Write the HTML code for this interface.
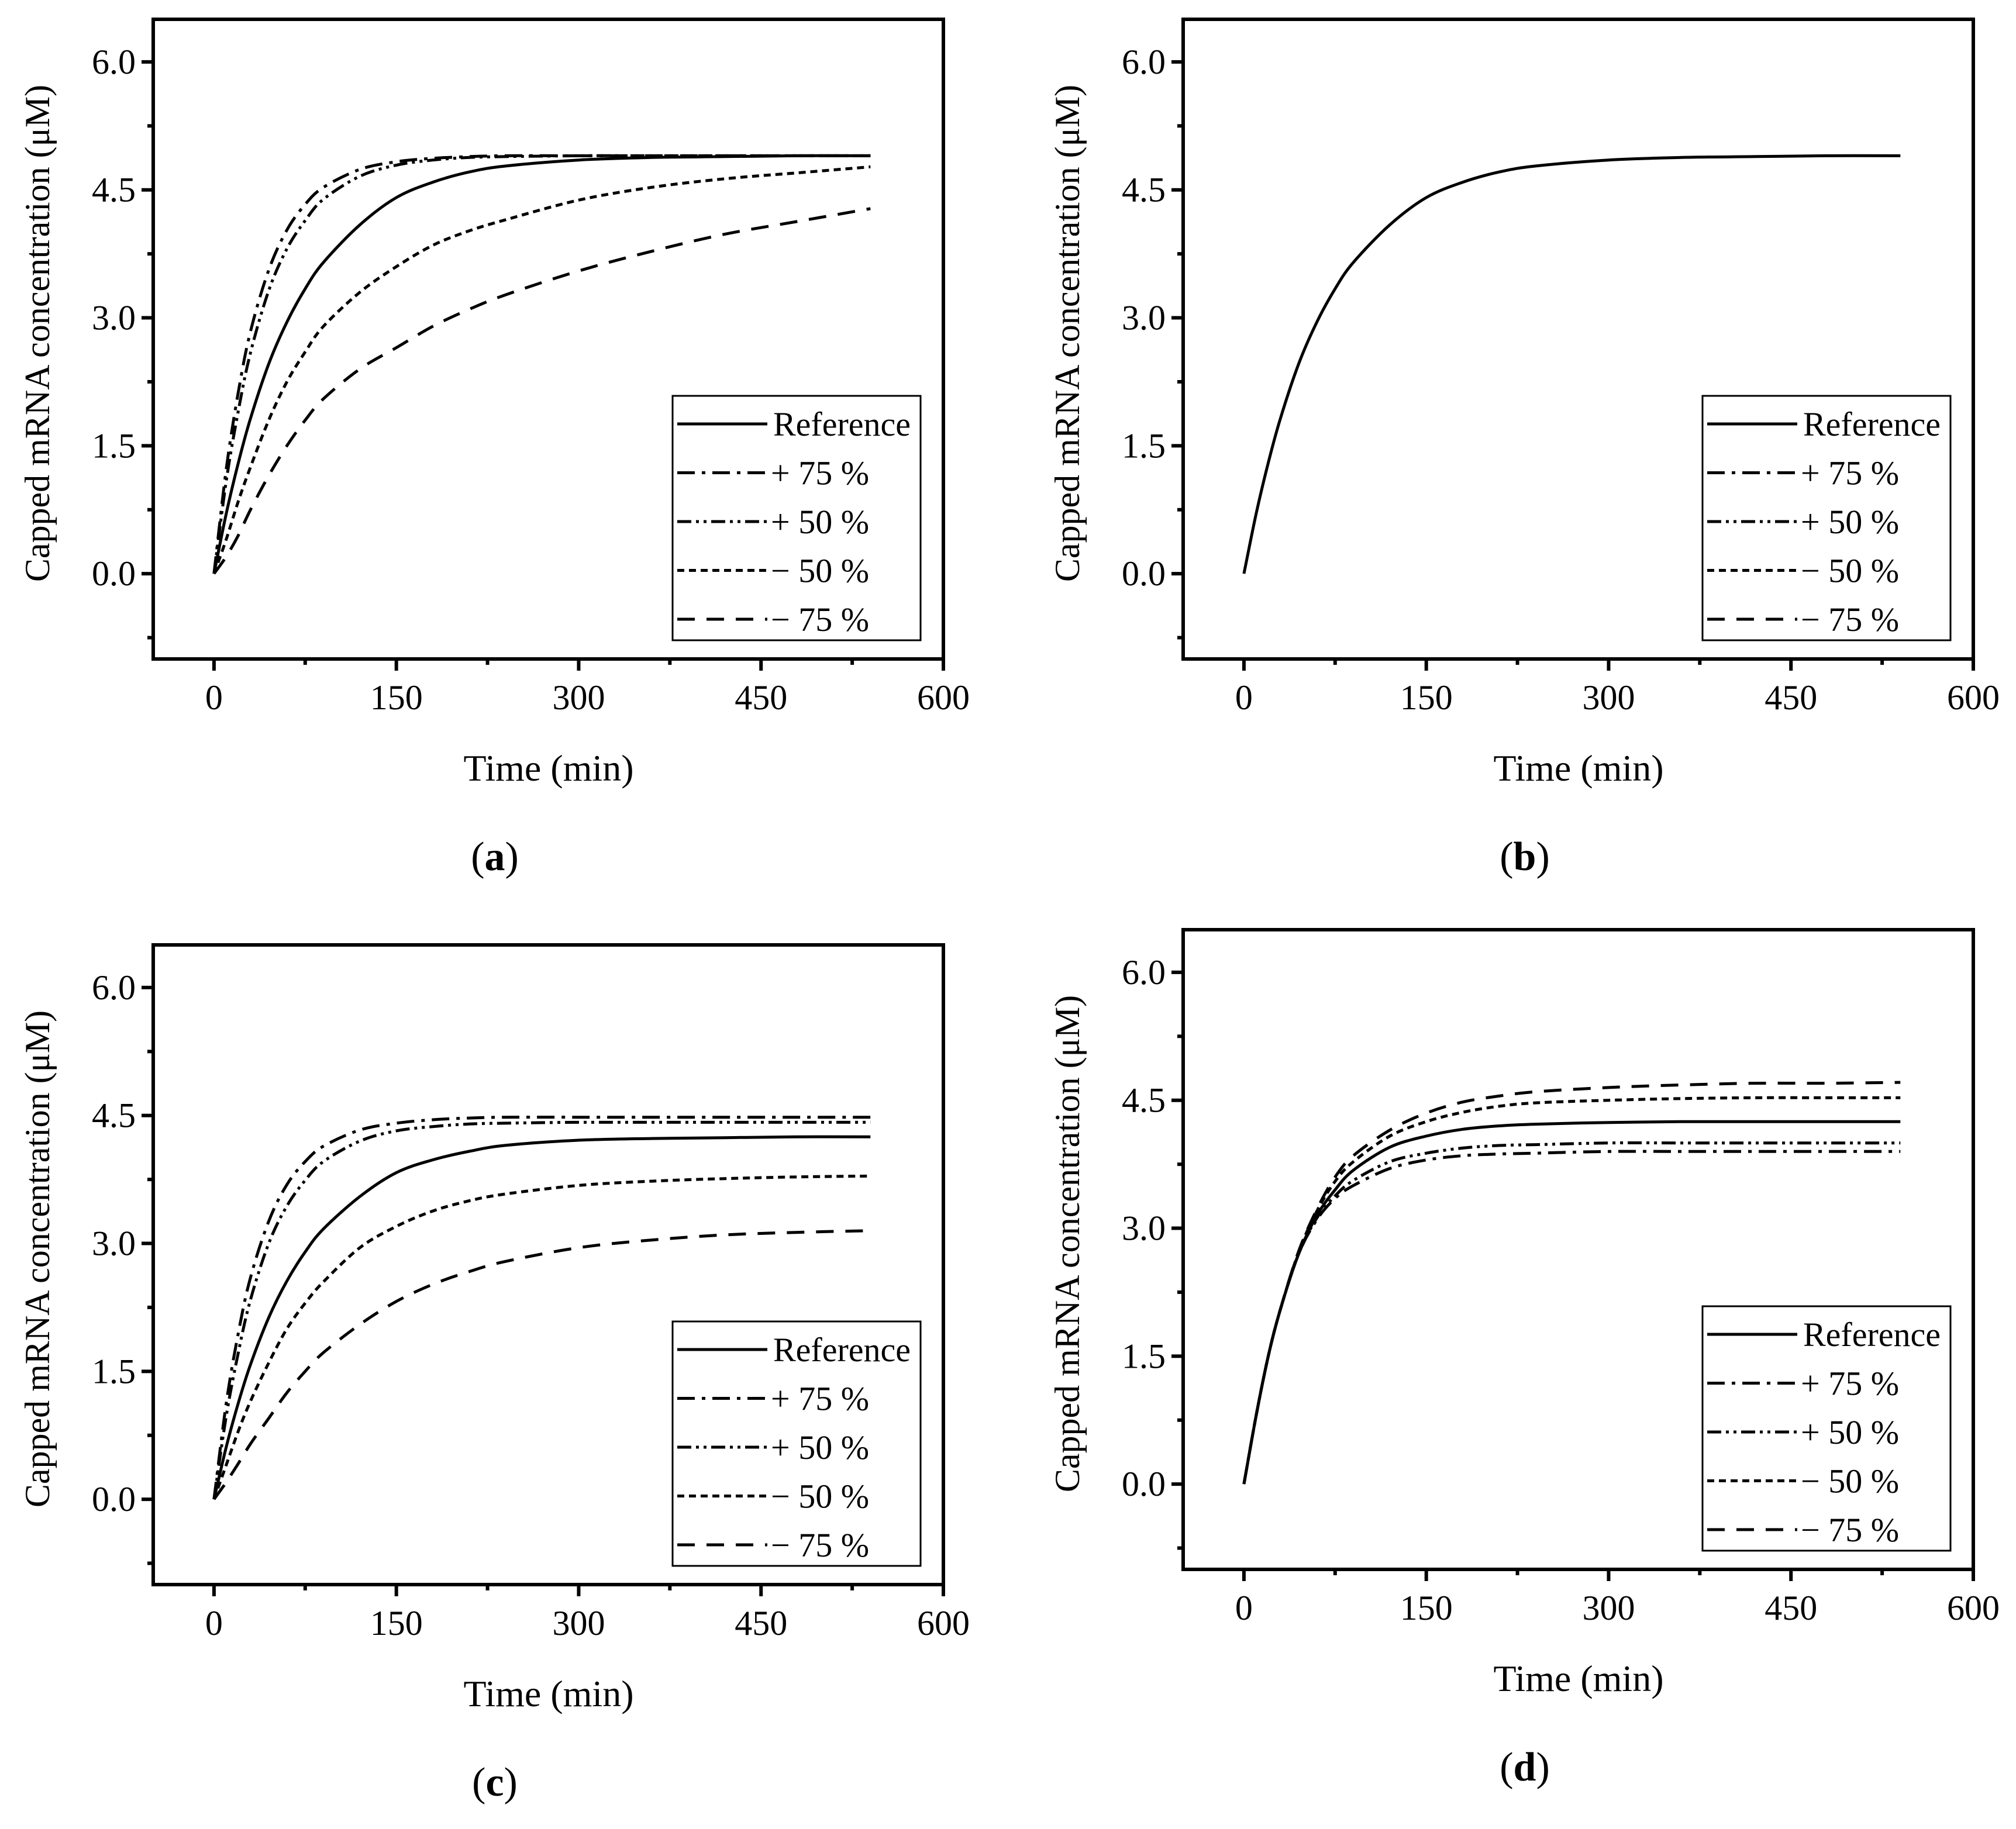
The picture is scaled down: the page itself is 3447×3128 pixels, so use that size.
<!DOCTYPE html>
<html><head><meta charset="utf-8"><style>
html,body{margin:0;padding:0;background:#fff;}
svg{display:block;font-family:"Liberation Serif",serif;}
</style></head><body>
<svg id="fig" width="3447" height="3128" viewBox="0 0 3447 3128" xmlns="http://www.w3.org/2000/svg"></svg>
<script>
const times = [0,10,20,30,45,60,75,90,120,150,180,210,240,300,360,420,480,540];
const xTicks = [0,150,300,450,600];
const yTicks = [0.0,1.5,3.0,4.5,6.0];
const seriesNames = ["Reference","+ 75 %","+ 50 %","\u2212 50 %","\u2212 75 %"];
const panelLabels = ["a","b","c","d"];
// panel a
const aRef = [0,0.70,1.30,1.82,2.46,2.95,3.34,3.65,4.09,4.41,4.59,4.71,4.78,4.85,4.88,4.89,4.90,4.90];
const aP75 = [0,1.22,2.13,2.84,3.56,4.03,4.33,4.53,4.74,4.83,4.87,4.89,4.90,4.90,4.90,4.90,4.90,4.90];
const aP50 = [0,1.08,1.91,2.59,3.32,3.81,4.14,4.39,4.66,4.79,4.85,4.88,4.89,4.90,4.90,4.90,4.90,4.90];
const aM50 = [0,0.40,0.85,1.25,1.80,2.25,2.60,2.90,3.30,3.60,3.85,4.02,4.15,4.38,4.53,4.63,4.70,4.77];
const aM75 = [0,0.20,0.45,0.75,1.15,1.50,1.80,2.05,2.40,2.65,2.90,3.10,3.27,3.55,3.78,3.98,4.13,4.28];
// panel b
const bRef = [0,0.70,1.30,1.82,2.46,2.95,3.34,3.65,4.09,4.41,4.59,4.71,4.78,4.85,4.88,4.89,4.90,4.90];
// panel c
const cRef = [0,0.61,1.13,1.58,2.13,2.56,2.90,3.17,3.55,3.83,3.98,4.08,4.15,4.21,4.23,4.24,4.25,4.25];
const cP75 = [0,1.12,1.95,2.60,3.26,3.69,3.96,4.14,4.33,4.41,4.45,4.47,4.48,4.48,4.48,4.48,4.48,4.48];
const cP50 = [0,0.97,1.72,2.34,3.00,3.44,3.74,3.96,4.20,4.32,4.37,4.40,4.41,4.42,4.42,4.42,4.42,4.42];
const cM50 = [0,0.40,0.80,1.15,1.60,2.00,2.30,2.55,2.95,3.20,3.38,3.50,3.58,3.68,3.73,3.76,3.78,3.79];
const cM75 = [0,0.20,0.42,0.65,0.95,1.25,1.50,1.72,2.05,2.32,2.52,2.67,2.79,2.95,3.04,3.10,3.13,3.15];
// panel d
const dRef = [0,0.80,1.50,2.05,2.70,3.15,3.45,3.68,3.95,4.08,4.16,4.20,4.22,4.24,4.25,4.25,4.25,4.25];
const dP75 = [0,0.80,1.50,2.05,2.70,3.10,3.35,3.50,3.70,3.80,3.85,3.87,3.88,3.90,3.90,3.90,3.90,3.90];
const dP50 = [0,0.80,1.50,2.05,2.70,3.12,3.38,3.56,3.78,3.88,3.94,3.97,3.98,4.00,4.00,4.00,4.00,4.00];
const dM50 = [0,0.80,1.50,2.05,2.72,3.20,3.55,3.78,4.08,4.25,4.36,4.43,4.47,4.50,4.52,4.53,4.53,4.53];
const dM75 = [0,0.80,1.50,2.05,2.73,3.22,3.60,3.85,4.15,4.35,4.48,4.55,4.60,4.65,4.68,4.70,4.70,4.71];

const NS="http://www.w3.org/2000/svg";
const svg=document.getElementById('fig');
const dashes=["", "30 12 6 12", "24 8 5 8 5 8", "12 8", "30 20"];
const slugs=["reference","plus-75","plus-50","minus-50","minus-75"];
function mk(tag,attrs,parent){const e=document.createElementNS(NS,tag);for(const k in attrs)e.setAttribute(k,attrs[k]);(parent||svg).appendChild(e);return e;}
function smoothPath(pts){
 let d='M'+pts[0][0].toFixed(1)+' '+pts[0][1].toFixed(1);
 for(let i=0;i<pts.length-1;i++){
  const p0=pts[Math.max(0,i-1)],p1=pts[i],p2=pts[i+1],p3=pts[Math.min(pts.length-1,i+2)];
  const c1x=p1[0]+(p2[0]-p0[0])/6,c1y=p1[1]+(p2[1]-p0[1])/6;
  const c2x=p2[0]-(p3[0]-p1[0])/6,c2y=p2[1]-(p3[1]-p1[1])/6;
  d+=` C${c1x.toFixed(1)} ${c1y.toFixed(1)} ${c2x.toFixed(1)} ${c2y.toFixed(1)} ${p2[0].toFixed(1)} ${p2[1].toFixed(1)}`;
 }
 return d;
}

const panels=[
 {dx:0,dy:0,series:[aRef,aP75,aP50,aM50,aM75]},
 {dx:1761,dy:0,series:[bRef]},
 {dx:0,dy:1583,series:[cRef,cP75,cP50,cM50,cM75]},
 {dx:1761,dy:1557,series:[dRef,dP75,dP50,dM50,dM75]}
];
const L=262,R=1613,T=33,B=1127, XMIN=-50,XMAX=600,YMIN=-1,YMAX=6.5;

panels.forEach((p,pi)=>{
 const g=mk('g',{transform:`translate(${p.dx},${p.dy})`});
 
 
 const xs=v=>L+(v-XMIN)/(XMAX-XMIN)*(R-L);
 const ys=v=>B-(v-YMIN)/(YMAX-YMIN)*(B-T);
 for(let v=0;v<=600;v+=75){const major=v%150===0;
  const t=mk('line',{x1:xs(v),x2:xs(v),y1:B,y2:B+(major?20:10),stroke:'#000','stroke-width':6},g);
  
  }
 for(let v=-0.75;v<=6.5;v+=0.75){const major=Math.abs(v/1.5-Math.round(v/1.5))<1e-6;
  const t=mk('line',{x1:L,x2:L-(major?20:10),y1:ys(v),y2:ys(v),stroke:'#000','stroke-width':6},g);
  
  }
 xTicks.forEach(v=>{const t=mk('text',{x:xs(v),y:B+86,'text-anchor':'middle','font-size':60},g);t.textContent=String(v);
  
  });
 yTicks.forEach(v=>{const t=mk('text',{x:L-30,y:ys(v)+20,'text-anchor':'end','font-size':60},g);t.textContent=v.toFixed(1);
  
  });
 const xt=mk('text',{x:938,y:1335,'text-anchor':'middle','font-size':64},g);xt.textContent='Time (min)';
 
 
 const yt=mk('text',{x:0,y:0,'text-anchor':'middle','font-size':60,transform:`translate(84,${(T+B)/2-10}) rotate(-90)`},g);yt.textContent='Capped mRNA concentration (\u03BCM)';
 
 
 const pl=mk('text',{x:846,y:1488,'text-anchor':'middle','font-size':70},g);
 pl.innerHTML='(<tspan font-weight="bold">'+panelLabels[pi]+'</tspan>)';
 
 
 p.series.forEach((arr,si)=>{
  const pts=arr.map((v,i)=>[xs(times[i]),ys(v)]);
  const path=mk('path',{d:smoothPath(pts),fill:'none',stroke:'#000','stroke-width':5,'stroke-linejoin':'round'},g);
  if(dashes[si])path.setAttribute('stroke-dasharray',dashes[si]);
  
  
 });
 const fr=mk('rect',{x:L,y:T,width:R-L,height:B-T,fill:'none',stroke:'#000','stroke-width':6},g);
 
 
 const lg=mk('g',{},g);
 
 
 mk('rect',{x:1150,y:677,width:424,height:418,fill:'#fff',stroke:'#000','stroke-width':3},lg);
 seriesNames.forEach((n,si)=>{
  const yy=725+si*83.5;
  const e=mk('g',{},lg);
  
  
  const ln=mk('line',{x1:1158,x2:1312,y1:yy,y2:yy,stroke:'#000','stroke-width':5},e);
  if(dashes[si])ln.setAttribute('stroke-dasharray',dashes[si]);
  const tx=mk('text',{x:si===0?1322:1318,y:yy+20,'font-size':58},e);tx.textContent=n;
 });
});
</script>
</body></html>
